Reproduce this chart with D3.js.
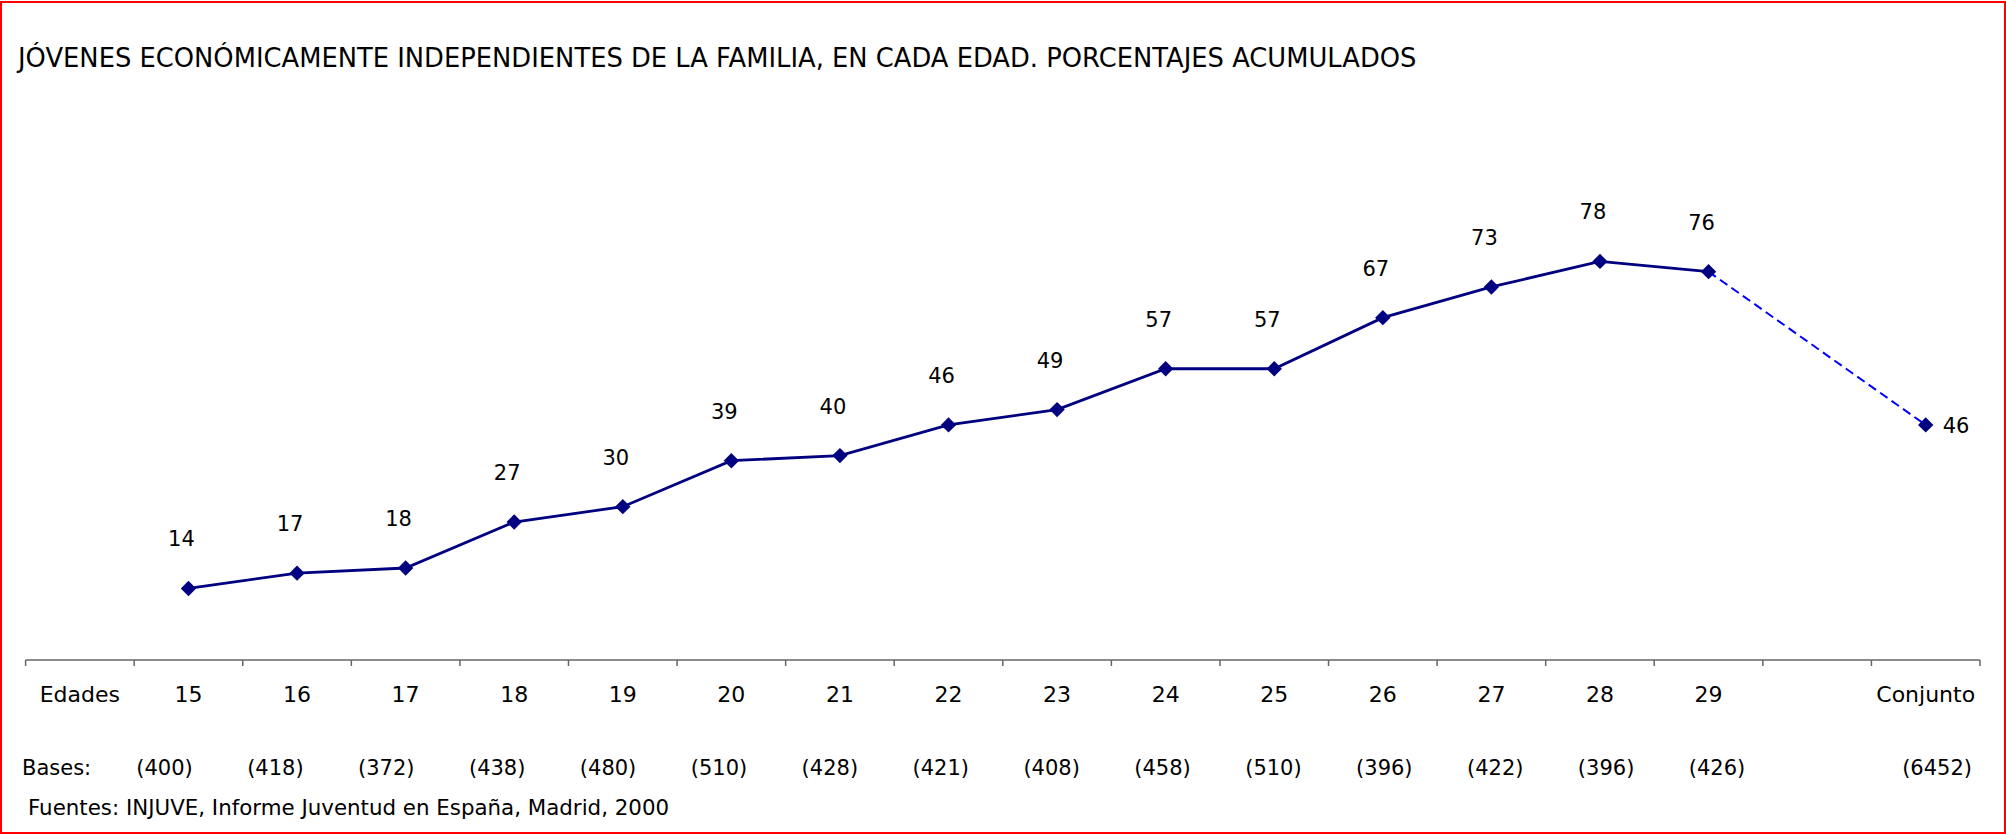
<!DOCTYPE html>
<html>
<head>
<meta charset="utf-8">
<script src="https://cdn.jsdelivr.net/npm/d3@7"></script>
<style>
    html, body { margin: 0; padding: 0; background: #fff; }
    svg { display: block; }
    text { font-family: "DejaVu Sans", "Noto Sans", sans-serif; fill: #000; }
</style>
</head>
<body>
<div id="chart"></div>
<script>
const title = "JÓVENES ECONÓMICAMENTE INDEPENDIENTES DE LA FAMILIA, EN CADA EDAD. PORCENTAJES ACUMULADOS";
const source = "Fuentes: INJUVE, Informe Juventud en España, Madrid, 2000";

// slots on the category axis: a label slot, the ages, a blank gap, and the total
const slots = ["Edades", "15", "16", "17", "18", "19", "20", "21", "22", "23", "24", "25", "26", "27", "28", "29", "", "Conjunto"];
const ages = ["15", "16", "17", "18", "19", "20", "21", "22", "23", "24", "25", "26", "27", "28", "29"];
const percentages = [14, 17, 18, 27, 30, 39, 40, 46, 49, 57, 57, 67, 73, 78, 76];
const totalLabel = "Conjunto";
const totalValue = 46;
const bases = [400, 418, 372, 438, 480, 510, 428, 421, 408, 458, 510, 396, 422, 396, 426];
const totalBase = 6452;

const width = 2006;
const height = 834;

const svg = d3.select("#chart").append("svg")
    .attr("width", width)
    .attr("height", height);

// red frame
svg.append("rect")
    .attr("x", 1).attr("y", 2)
    .attr("width", width - 2).attr("height", height - 3)
    .attr("fill", "none")
    .attr("stroke", "#ff0000")
    .attr("stroke-width", 2);

const x = d3.scaleBand().domain(slots).range([25.6, 1980]).padding(0);
const y = d3.scaleLinear().domain([0, 100]).range([660, 149]);
const cx = d => x(d) + x.bandwidth() / 2;

// fit text to a measured width so the layout matches whatever font is present
function fitWidth(sel, target) {
    const w = sel.node().getComputedTextLength();
    const fs = parseFloat(sel.attr("font-size"));
    sel.attr("font-size", (fs * target / w).toFixed(2));
}

const t = svg.append("text")
    .attr("x", 18).attr("y", 58)
    .attr("dominant-baseline", "central")
    .attr("font-size", 23)
    .text(title);
fitWidth(t, 1399);

// axis line and ticks at slot boundaries
const axisY = y(0);
svg.append("line")
    .attr("x1", x.range()[0]).attr("x2", x.range()[1])
    .attr("y1", axisY).attr("y2", axisY)
    .attr("stroke", "#666").attr("stroke-width", 1.5);

const bounds = slots.map(s => x(s)).concat([x.range()[1]]);
svg.selectAll("line.tick")
    .data(bounds)
    .enter().append("line")
    .attr("class", "tick")
    .attr("x1", d => d).attr("x2", d => d)
    .attr("y1", axisY).attr("y2", axisY + 6)
    .attr("stroke", "#666").attr("stroke-width", 1.5);

svg.selectAll("text.cat")
    .data(slots.filter(s => s !== ""))
    .enter().append("text")
    .attr("class", "cat")
    .attr("x", d => cx(d))
    .attr("y", 694)
    .attr("text-anchor", "middle")
    .attr("dominant-baseline", "central")
    .attr("font-size", 22)
    .text(d => d);

// bases row
const bx = d3.scalePoint().domain(ages).range([164.5, 1717]);
svg.append("text")
    .attr("x", 22).attr("y", 768)
    .attr("dominant-baseline", "central")
    .attr("font-size", 21)
    .text("Bases:");
svg.selectAll("text.base")
    .data(bases)
    .enter().append("text")
    .attr("class", "base")
    .attr("x", (d, i) => bx(ages[i]))
    .attr("y", 768)
    .attr("text-anchor", "middle")
    .attr("dominant-baseline", "central")
    .attr("font-size", 21)
    .text(d => `(${d})`);
svg.append("text")
    .attr("x", 1972).attr("y", 768)
    .attr("text-anchor", "end")
    .attr("dominant-baseline", "central")
    .attr("font-size", 21)
    .text(`(${totalBase})`);

const s = svg.append("text")
    .attr("x", 28).attr("y", 807)
    .attr("dominant-baseline", "central")
    .attr("font-size", 19)
    .text(source);
fitWidth(s, 641);

// series
const pts = ages.map((a, i) => ({ key: a, value: percentages[i] }));
const total = { key: totalLabel, value: totalValue };
const last = pts[pts.length - 1];

const line = d3.line().x(d => cx(d.key)).y(d => y(d.value));

svg.append("path")
    .datum([last, total])
    .attr("d", line)
    .attr("fill", "none")
    .attr("stroke", "#0000ff")
    .attr("stroke-width", 2)
    .attr("stroke-dasharray", "9,5");

svg.append("path")
    .datum(pts)
    .attr("d", line)
    .attr("fill", "none")
    .attr("stroke", "#000080")
    .attr("stroke-width", 2.8);

const diamond = d3.symbol().type(d3.symbolDiamond2).size(150);
svg.selectAll("path.marker")
    .data(pts.concat([total]))
    .enter().append("path")
    .attr("class", "marker")
    .attr("transform", d => `translate(${cx(d.key)},${y(d.value)})`)
    .attr("d", diamond)
    .attr("fill", "#000080");

svg.selectAll("text.val")
    .data(pts)
    .enter().append("text")
    .attr("class", "val")
    .attr("x", d => cx(d.key) - 7)
    .attr("y", d => y(d.value) - 49)
    .attr("text-anchor", "middle")
    .attr("dominant-baseline", "central")
    .attr("font-size", 21)
    .text(d => d.value);

svg.append("text")
    .attr("x", cx(total.key) + 17)
    .attr("y", y(total.value) + 1)
    .attr("dominant-baseline", "central")
    .attr("font-size", 21)
    .text(total.value);
</script>
</body>
</html>
